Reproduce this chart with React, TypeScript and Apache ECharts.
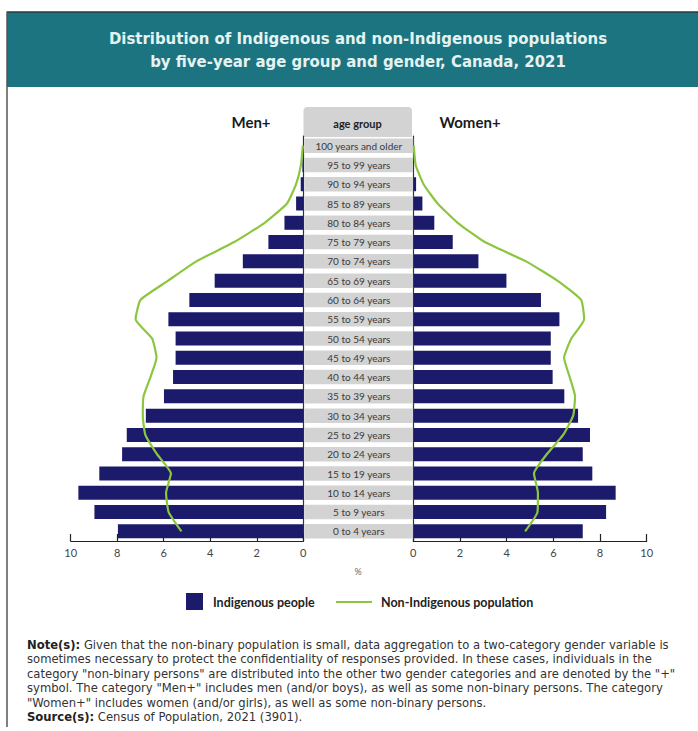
import React, { useEffect, useRef } from "react";
import * as echarts from "echarts";

// Age groups, youngest first (category y axis runs bottom → top)
const ageGroups = [
  "0 to 4 years", "5 to 9 years", "10 to 14 years", "15 to 19 years", "20 to 24 years",
  "25 to 29 years", "30 to 34 years", "35 to 39 years", "40 to 44 years", "45 to 49 years",
  "50 to 54 years", "55 to 59 years", "60 to 64 years", "65 to 69 years", "70 to 74 years",
  "75 to 79 years", "80 to 84 years", "85 to 89 years", "90 to 94 years", "95 to 99 years",
  "100 years and older",
];

// Percent of each population, Men+
const menIndigenous = [
  7.97, 8.98, 9.67, 8.77, 7.79, 7.59, 6.77, 5.99, 5.6, 5.49, 5.49,
  5.8, 4.9, 3.81, 2.6, 1.5, 0.81, 0.31, 0.11, 0.04, 0.01,
];
const menNonIndigenous = [
  5.24, 5.79, 5.9, 5.69, 6.29, 6.79, 6.9, 6.87, 6.57, 6.31, 6.5,
  7.21, 7.0, 5.81, 4.6, 2.97, 1.66, 0.7, 0.31, 0.1, 0.02,
];

// Percent of each population, Women+
const womenIndigenous = [
  7.26, 8.26, 8.67, 7.67, 7.26, 7.57, 7.06, 6.47, 5.97, 5.89, 5.89,
  6.26, 5.47, 3.99, 2.79, 1.69, 0.9, 0.39, 0.12, 0.03, 0.01,
];
const womenNonIndigenous = [
  4.79, 5.32, 5.34, 5.17, 5.72, 6.42, 6.85, 6.93, 6.7, 6.46, 6.77,
  7.32, 7.19, 6.17, 4.83, 3.06, 1.9, 1.04, 0.44, 0.1, 0.02,
];

const titleLines = [
  "Distribution of Indigenous and non-Indigenous populations",
  "by five-year age group and gender, Canada, 2021",
];

const noteLines = [
  "{b|Note(s):} Given that the non-binary population is small, data aggregation to a two-category gender variable is",
  "sometimes necessary to protect the confidentiality of responses provided. In these cases, individuals in the",
  "category \"non-binary persons\" are distributed into the other two gender categories and are denoted by the \"+\"",
  "symbol. The category \"Men+\" includes men (and/or boys), as well as some non-binary persons. The category",
  "\"Women+\" includes women (and/or girls), as well as some non-binary persons.",
  "{b|Source(s):} Census of Population, 2021 (3901).",
];

const NAVY = "#1b1a6b";
const GREEN = "#8cc63f";
const TEAL = "#1b7480";
const BAND = "#d3d3d3";
const AXIS = "#222";

const GRID_TOP = 136;
const GRID_H = 405;

export default function App() {
  const ref = useRef<HTMLDivElement>(null);

  useEffect(() => {
    document.body.style.margin = "0";
    if (!ref.current) return;
    const chart = echarts.init(ref.current, null, { renderer: "svg" });

    const valueAxisBase = {
      type: "value",
      min: 0,
      max: 10,
      interval: 2,
      splitLine: { show: false },
      axisLine: { show: true, lineStyle: { color: AXIS, width: 1.2 } },
      axisTick: { show: true, inside: true, length: 7, lineStyle: { color: AXIS, width: 1.2 } },
      axisLabel: { color: "#444", fontFamily: "Lato", fontSize: 11, margin: 6 },
    };

    const option: any = {
      animation: false,
      backgroundColor: "#fff",
      grid: [
        { left: 70.7, width: 232.6, top: GRID_TOP, height: GRID_H },
        { left: 413.3, width: 233.4, top: GRID_TOP, height: GRID_H },
      ],
      xAxis: [
        { ...valueAxisBase, gridIndex: 0, inverse: true },
        { ...valueAxisBase, gridIndex: 1 },
      ],
      yAxis: [
        {
          type: "category",
          gridIndex: 0,
          data: ageGroups,
          position: "right",
          axisLine: { show: true, lineStyle: { color: "#333", width: 1.2 } },
          axisTick: { show: false },
          axisLabel: { show: false },
        },
        {
          type: "category",
          gridIndex: 1,
          data: ageGroups,
          position: "left",
          axisLine: { show: true, lineStyle: { color: "#333", width: 1.2 } },
          axisTick: { show: false },
          axisLabel: {
            show: true,
            margin: 0,
            formatter: (v: string) => `{band|${v}}`,
            rich: {
              band: {
                width: 109,
                height: 14.5,
                lineHeight: 14.5,
                align: "center",
                backgroundColor: BAND,
                color: "#3a3a3a",
                fontFamily: "Lato",
                fontSize: 10,
              },
            },
          },
        },
      ],
      series: [
        {
          name: "Indigenous people",
          type: "bar",
          xAxisIndex: 0,
          yAxisIndex: 0,
          data: menIndigenous,
          barWidth: 14,
          itemStyle: { color: NAVY },
        },
        {
          name: "Indigenous people",
          type: "bar",
          xAxisIndex: 1,
          yAxisIndex: 1,
          data: womenIndigenous,
          barWidth: 14,
          itemStyle: { color: NAVY },
        },
        {
          name: "Non-Indigenous population",
          type: "line",
          xAxisIndex: 0,
          yAxisIndex: 0,
          data: menNonIndigenous,
          symbol: "none",
          smooth: 0.15,
          lineStyle: { color: GREEN, width: 2.2 },
          z: 5,
        },
        {
          name: "Non-Indigenous population",
          type: "line",
          xAxisIndex: 1,
          yAxisIndex: 1,
          data: womenNonIndigenous,
          symbol: "none",
          smooth: 0.15,
          lineStyle: { color: GREEN, width: 2.2 },
          z: 5,
        },
      ],
      graphic: [
        // frame and header band
        { type: "rect", shape: { x: 7, y: 12, width: 691, height: 75 }, style: { fill: TEAL } },
        { type: "line", shape: { x1: 7, y1: 12, x2: 698, y2: 12 }, style: { stroke: "#2a3a3c", lineWidth: 1.5 } },
        { type: "line", shape: { x1: 7, y1: 11.5, x2: 7, y2: 727 }, style: { stroke: "#555", lineWidth: 1.5 } },
        ...titleLines.map((t, i) => ({
          type: "text",
          x: 358,
          y: 38 + i * 23,
          style: {
            text: t,
            fill: "#e4f2f2",
            font: "bold 16.6px 'DejaVu Sans Condensed'",
            textAlign: "center",
            textVerticalAlign: "middle",
          },
        })),
        // "age group" header tab
        {
          type: "rect",
          shape: { x: 303.5, y: 107, width: 108.5, height: 30, r: [4, 4, 0, 0] },
          style: { fill: BAND },
        },
        {
          type: "text",
          x: 357.5,
          y: 123,
          style: { text: "age group", fill: "#222", font: "bold 11px Lato", textAlign: "center", textVerticalAlign: "middle" },
        },
        {
          type: "text",
          x: 251,
          y: 122,
          style: { text: "Men+", fill: "#1a1a1a", font: "bold 15px Lato", textAlign: "center", textVerticalAlign: "middle" },
        },
        {
          type: "text",
          x: 470,
          y: 122,
          style: { text: "Women+", fill: "#1a1a1a", font: "bold 15px Lato", textAlign: "center", textVerticalAlign: "middle" },
        },
        {
          type: "text",
          x: 358,
          y: 571,
          style: { text: "%", fill: "#666", font: "9px Lato", textAlign: "center", textVerticalAlign: "middle" },
        },
        // legend
        { type: "rect", shape: { x: 186, y: 593, width: 17, height: 17 }, style: { fill: NAVY } },
        {
          type: "text",
          x: 213,
          y: 602,
          style: { text: "Indigenous people", fill: "#222", font: "bold 12.5px Lato", textVerticalAlign: "middle" },
        },
        { type: "line", shape: { x1: 336, y1: 602, x2: 372, y2: 602 }, style: { stroke: GREEN, lineWidth: 2 } },
        {
          type: "text",
          x: 381,
          y: 602,
          style: { text: "Non-Indigenous population", fill: "#222", font: "bold 12.5px Lato", textVerticalAlign: "middle" },
        },
        // notes
        ...noteLines.map((t, i) => ({
          type: "text",
          x: 27,
          y: 645 + i * 14.4,
          style: {
            text: t,
            fill: "#333",
            font: "11.6px 'DejaVu Sans'",
            textVerticalAlign: "middle",
            rich: { b: { fontWeight: "bold", fontFamily: "DejaVu Sans", fontSize: 11.6, fill: "#222" } },
          },
        })),
      ],
    };

    chart.setOption(option);
    return () => chart.dispose();
  }, []);

  return <div ref={ref} style={{ width: 698, height: 731 }} />;
}
